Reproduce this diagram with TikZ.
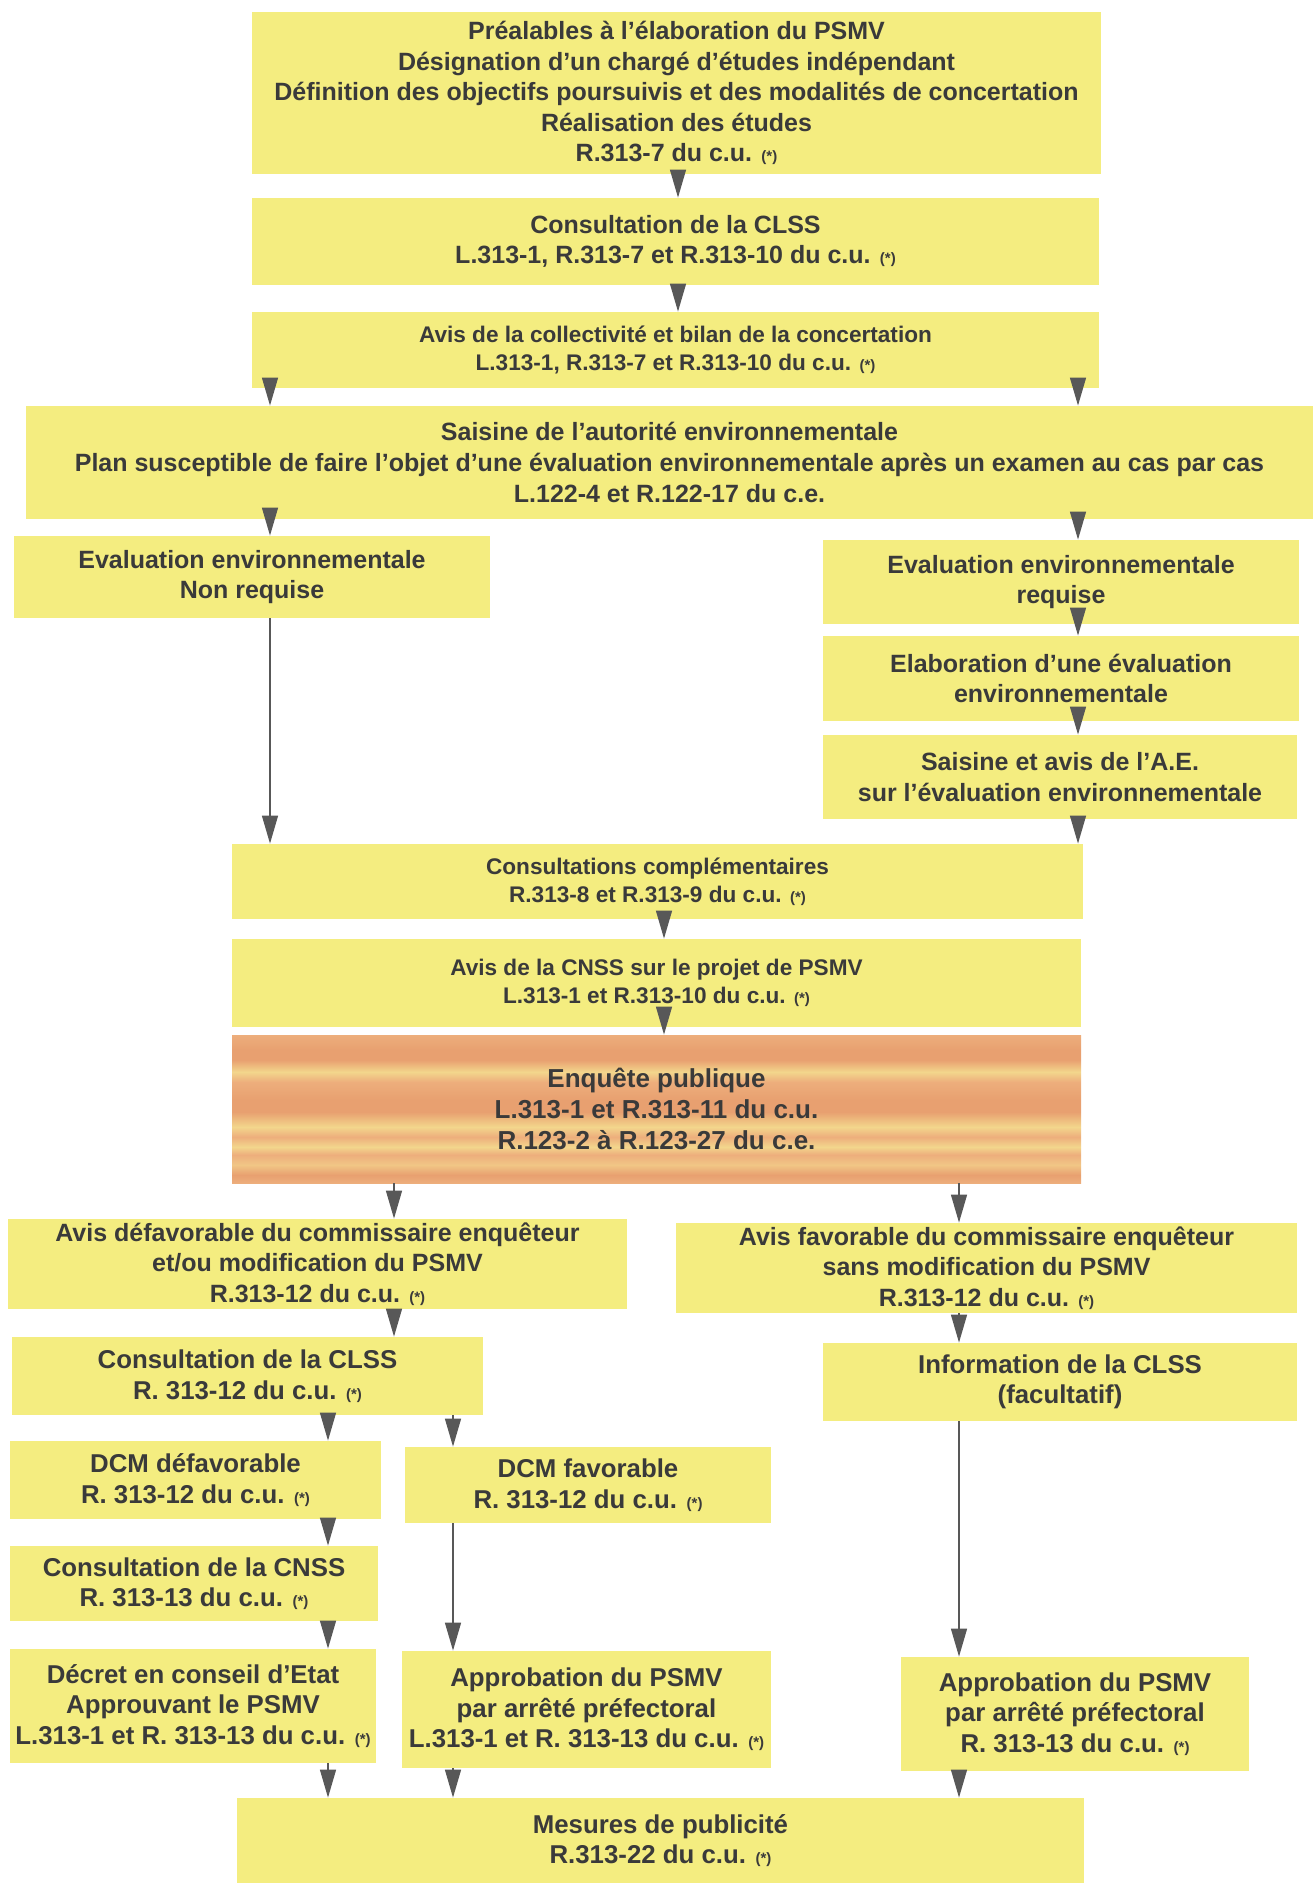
\documentclass[tikz,border=0pt]{standalone}
\usepackage{fontspec}
\setmainfont{Liberation Sans}
\usepackage{xcolor}
\usetikzlibrary{arrows.meta,calc}
\definecolor{PlanYellow}{RGB}{244,237,128}
\definecolor{EnqOrange}{RGB}{237,174,124}
\definecolor{EnqDark}{RGB}{232,160,112}
\definecolor{EnqStreak}{RGB}{243,214,140}
\definecolor{InkGray}{RGB}{58,58,58}
\definecolor{ArrowGray}{RGB}{88,88,88}
\pgfdeclareverticalshading{enqbands}{100bp}{color(0bp)=(EnqOrange); color(25bp)=(EnqOrange);
	color(27.7bp)=(EnqDark); color(31.1bp)=(EnqStreak!60!EnqOrange); color(34.5bp)=(EnqOrange);
	color(37.2bp)=(EnqStreak); color(40.5bp)=(EnqOrange); color(43.9bp)=(EnqStreak);
	color(49bp)=(EnqDark); color(53bp)=(EnqDark); color(59.1bp)=(EnqOrange);
	color(62.5bp)=(EnqStreak); color(66.6bp)=(EnqDark); color(69.9bp)=(EnqDark);
	color(75bp)=(EnqOrange); color(100bp)=(EnqOrange)}
\newcommand{\renv}{{\fontsize{7.5}{7.5}\selectfont(*)}}
\tikzset{
	etape/.style={fill=PlanYellow, inner sep=0pt, align=center, text=InkGray,
		font=\fontsize{12.5}{15.3}\selectfont\bfseries},
	petite/.style={font=\fontsize{11.3}{14}\selectfont\bfseries},
	basse/.style={font=\fontsize{12.9}{15.3}\selectfont\bfseries},
	enquete/.style={etape, shading=enqbands, font=\fontsize{13}{15.3}\selectfont\bfseries},
	arr/.style={draw=ArrowGray, line width=0.7pt, -{Triangle[length=14pt,width=8pt]}}
}

\begin{document}
\begin{tikzpicture}[x=0.5pt, y=-0.5pt]
	\useasboundingbox (0,0) rectangle (1315,1883);
	% colonnes des fleches
	\coordinate (colmid) at (678,0);
	\coordinate (colleft) at (270,0);
	\coordinate (colright) at (1078,0);
	\coordinate (colenq) at (664,0);
	\coordinate (colA) at (394,0);
	\coordinate (colB) at (959,0);
	\coordinate (colC) at (328,0);
	\coordinate (colD) at (453,0);

	\node[etape, minimum width=424.5pt, minimum height=81pt] (pre) at (676.5,93)
		{Préalables à l'élaboration du PSMV\\ Désignation d'un chargé d'études indépendant\\
		 Définition des objectifs poursuivis et des modalités de concertation\\
		 Réalisation des études\\ R.313-7 du c.u. \renv};
	\node[etape, minimum width=423.5pt, minimum height=43.5pt] (clss) at (675.5,241.5)
		{Consultation de la CLSS\\ L.313-1, R.313-7 et R.313-10 du c.u. \renv};
	\node[etape, petite, minimum width=423.5pt, minimum height=38pt] (avis) at (675.5,350)
		{Avis de la collectivité et bilan de la concertation\\ L.313-1, R.313-7 et R.313-10 du c.u. \renv};
	\node[etape, minimum width=643.5pt, minimum height=56.5pt] (saisine) at (669.5,462.5)
		{Saisine de l'autorité environnementale\\
		 Plan susceptible de faire l'objet d'une évaluation environnementale après un examen au cas par cas\\
		 L.122-4 et R.122-17 du c.e.};

	% branche gauche / droite
	\node[etape, minimum width=238pt, minimum height=41pt] (evnon) at (252,577)
		{Evaluation environnementale\\ Non requise};
	\node[etape, minimum width=238pt, minimum height=42pt] (evreq) at (1061,582)
		{Evaluation environnementale\\ requise};
	\node[etape, minimum width=238pt, minimum height=42.5pt] (elab) at (1061,678.5)
		{Elaboration d'une évaluation\\ environnementale};
	\node[etape, minimum width=237pt, minimum height=42pt] (saisae) at (1060,777)
		{Saisine et avis de l'A.E.\\ sur l'évaluation environnementale};

	\node[etape, petite, minimum width=425.5pt, minimum height=37.5pt] (compl) at (657.5,881.5)
		{Consultations complémentaires\\ R.313-8 et R.313-9 du c.u. \renv};
	\node[etape, petite, minimum width=424.5pt, minimum height=44pt] (cnss) at (656.5,983)
		{Avis de la CNSS sur le projet de PSMV\\ L.313-1 et R.313-10 du c.u. \renv};
	\node[enquete, minimum width=424.5pt, minimum height=74pt] (enquete) at (656.5,1109)
		{Enquête publique\\ L.313-1 et R.313-11 du c.u.\\ R.123-2 à R.123-27 du c.e.};

	% avis du commissaire enqueteur
	\node[etape, minimum width=309.5pt, minimum height=45pt] (defav) at (317.5,1264)
		{Avis défavorable du commissaire enquêteur\\ et/ou modification du PSMV\\ R.313-12 du c.u. \renv};
	\node[etape, minimum width=310.5pt, minimum height=45pt] (fav) at (986.5,1268)
		{Avis favorable du commissaire enquêteur\\ sans modification du PSMV\\ R.313-12 du c.u. \renv};
	\node[etape, basse, minimum width=235.5pt, minimum height=39pt] (clssb) at (247.5,1376)
		{Consultation de la CLSS\\ R. 313-12 du c.u. \renv};
	\node[etape, basse, minimum width=237pt, minimum height=39pt] (info) at (1060,1382)
		{Information de la CLSS\\ (facultatif)};
	\node[etape, basse, minimum width=185.5pt, minimum height=39pt] (dcmdef) at (195.5,1480)
		{DCM défavorable\\ R. 313-12 du c.u. \renv};
	\node[etape, basse, minimum width=183pt, minimum height=38pt] (dcmfav) at (588,1485)
		{DCM favorable\\ R. 313-12 du c.u. \renv};
	\node[etape, basse, minimum width=184pt, minimum height=37.5pt] (cnssb) at (194,1583.5)
		{Consultation de la CNSS\\ R. 313-13 du c.u. \renv};
	\node[etape, basse, minimum width=183pt, minimum height=57pt] (decret) at (193,1706)
		{Décret en conseil d'Etat\\ Approuvant le PSMV\\ L.313-1 et R. 313-13 du c.u. \renv};
	\node[etape, basse, minimum width=184.5pt, minimum height=58.5pt] (approA) at (586.5,1709.5)
		{Approbation du PSMV\\ par arrêté préfectoral\\ L.313-1 et R. 313-13 du c.u. \renv};
	\node[etape, basse, minimum width=174pt, minimum height=57pt] (approB) at (1075,1714)
		{Approbation du PSMV\\ par arrêté préfectoral\\ R. 313-13 du c.u. \renv};
	\node[etape, basse, minimum width=423.5pt, minimum height=42.5pt] (mesures) at (660.5,1840.5)
		{Mesures de publicité\\ R.313-22 du c.u. \renv};

	% fleches
	\foreach \a/\b/\c in {pre/clss/colmid, clss/avis/colmid,
			avis/saisine/colleft, avis/saisine/colright,
			saisine/evnon/colleft, saisine/evreq/colright,
			evnon/compl/colleft, evreq/elab/colright, elab/saisae/colright, saisae/compl/colright,
			compl/cnss/colenq, cnss/enquete/colenq,
			enquete/defav/colA, enquete/fav/colB, defav/clssb/colA, fav/info/colB,
			clssb/dcmdef/colC, clssb/dcmfav/colD, dcmdef/cnssb/colC, cnssb/decret/colC,
			dcmfav/approA/colD, info/approB/colB,
			decret/mesures/colC, approA/mesures/colD, approB/mesures/colB}
		\draw[arr] (\a.south -| \c) -- (\b.north -| \c);
\end{tikzpicture}
\end{document}
